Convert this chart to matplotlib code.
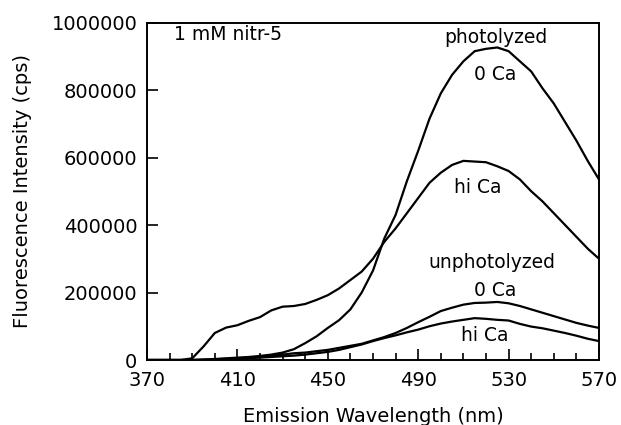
import matplotlib.pyplot as plt
from matplotlib.ticker import MultipleLocator, FuncFormatter

# wavelengths (nm) and intensities (cps)
wl = [370, 380, 385, 390, 395, 400, 405, 410, 415, 420, 425, 430, 435, 440,
      445, 450, 455, 460, 465, 470, 475, 480, 485, 490, 495, 500, 505, 510,
      515, 520, 525, 530, 535, 540, 545, 550, 555, 560, 565, 570]

photo_0ca = [0, 0, 0, 0, 1000, 3000, 5000, 7000, 9000, 12000, 16000, 22000,
             32000, 50000, 70000, 95000, 118000, 150000, 200000, 265000,
             360000, 430000, 530000, 620000, 715000, 790000, 845000, 885000,
             915000, 922000, 926000, 915000, 885000, 855000, 805000, 760000,
             705000, 650000, 590000, 535000]

photo_hica = [0, 0, 0, 5000, 40000, 80000, 96000, 103000, 116000, 127000,
              147000, 158000, 160000, 166000, 178000, 192000, 212000, 237000,
              262000, 300000, 350000, 390000, 435000, 480000, 525000, 555000,
              578000, 590000, 588000, 586000, 574000, 560000, 535000, 500000,
              470000, 435000, 400000, 365000, 330000, 300000]

unphoto_0ca = [0, 0, 0, 0, 1000, 2000, 3500, 5000, 7000, 9000, 13000, 16000,
               20000, 22000, 26000, 30000, 36000, 42000, 48000, 58000, 68000,
               80000, 95000, 112000, 128000, 145000, 155000, 164000, 169000,
               170000, 172000, 168000, 160000, 150000, 140000, 130000, 120000,
               110000, 102000, 95000]

unphoto_hica = [0, 0, 0, 0, 500, 1000, 2500, 4000, 5500, 7000, 9000, 11000,
                13000, 16000, 20000, 24000, 30000, 38000, 46000, 56000, 65000,
                73000, 82000, 90000, 100000, 108000, 114000, 119000, 124000,
                122000, 119000, 117000, 107000, 99000, 94000, 87000, 80000,
                72000, 63000, 56000]

xticks = [370, 410, 450, 490, 530, 570]

fig = plt.figure(figsize=(6.21, 4.25), dpi=100)
ax = fig.add_axes([147 / 621, 1 - 360 / 425, 452 / 621, 337.5 / 425])

for ys in (photo_0ca, photo_hica, unphoto_0ca, unphoto_hica):
    ax.plot(wl, ys, color='black', lw=1.6)

ax.set_xlim(370, 570)
ax.set_ylim(0, 1000000)
ax.set_xticks(xticks)
ax.xaxis.set_minor_locator(MultipleLocator(10))
ax.yaxis.set_major_locator(MultipleLocator(200000))
ax.yaxis.set_major_formatter(FuncFormatter(lambda v, p: f"{int(v)}"))
ax.tick_params(which='both', direction='in', top=False, right=False,
               labelsize=14, width=1.2)
ax.tick_params(axis='x', pad=8)
ax.tick_params(axis='y', pad=7)
ax.tick_params(which='major', length=8)
ax.tick_params(which='minor', length=5)
for s in ax.spines.values():
    s.set_linewidth(1.4)

ax.set_xlabel("Emission Wavelength (nm)", fontsize=14, labelpad=12)
ax.set_ylabel("Fluorescence Intensity (cps)", fontsize=14, labelpad=14)

ax.text(382, 965000, "1 mM nitr-5", fontsize=13.5, va='center')
ax.text(524.5, 957000, "photolyzed", fontsize=13.5, ha='center', va='center')
ax.text(524, 845000, "0 Ca", fontsize=13.5, ha='center', va='center')
ax.text(516.5, 510000, "hi Ca", fontsize=13.5, ha='center', va='center')
ax.text(522.5, 290000, "unphotolyzed", fontsize=13.5, ha='center', va='center')
ax.text(524, 207000, "0 Ca", fontsize=13.5, ha='center', va='center')
ax.text(519.5, 74000, "hi Ca", fontsize=13.5, ha='center', va='center')

fig.savefig("out.png", dpi=100)
